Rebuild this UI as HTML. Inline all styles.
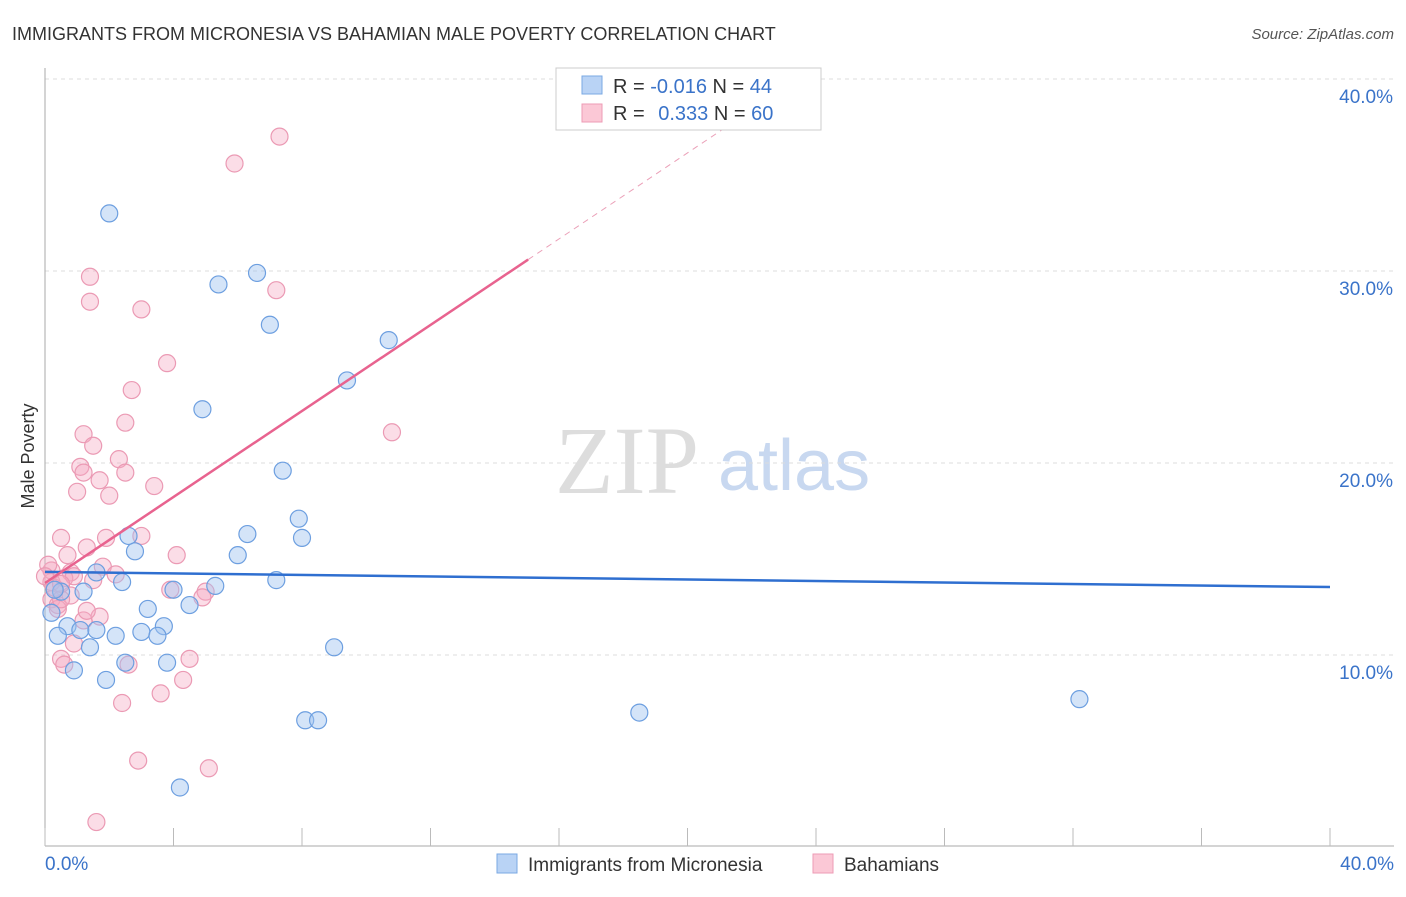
<!DOCTYPE html>
<html><head><meta charset="utf-8"><style>
body{margin:0;background:#fff;font-family:"Liberation Sans",sans-serif;}
</style></head><body>
<svg width="1406" height="892" xmlns="http://www.w3.org/2000/svg" font-family="Liberation Sans, sans-serif">
<text x="12" y="40" font-size="18" fill="#333">IMMIGRANTS FROM MICRONESIA VS BAHAMIAN MALE POVERTY CORRELATION CHART</text>
<text x="1394" y="39" font-size="15" fill="#555" text-anchor="end" font-style="italic">Source: ZipAtlas.com</text>
<text x="34" y="456" font-size="18" fill="#333" text-anchor="middle" transform="rotate(-90 34 456)">Male Poverty</text>
<text x="555" y="493" font-size="96" fill="#ddd" font-family="Liberation Serif, serif">ZIP</text>
<text x="718" y="490" font-size="72" fill="#c8d8f0">atlas</text>
<g id="grid"></g>
<g id="marks"></g>
<g>
<rect x="556" y="68" width="265" height="62" fill="#fff" stroke="#ccc"/>
<rect x="582" y="76" width="20" height="18" fill="#b9d3f5" stroke="#7aa8e3"/>
<rect x="582" y="104" width="20" height="18" fill="#fbc8d6" stroke="#ee9bb5"/>
<text x="613" y="93" font-size="20" fill="#333">R = <tspan fill="#3a73c9">-0.016</tspan>   N = <tspan fill="#3a73c9">44</tspan></text>
<text x="613" y="120" font-size="20" fill="#333">R =  <tspan fill="#3a73c9" dx="8">0.333</tspan>   N = <tspan fill="#3a73c9">60</tspan></text>
</g>
<g>
<rect x="497" y="854" width="20" height="19" fill="#b9d3f5" stroke="#7aa8e3"/>
<text x="528" y="871" font-size="19" fill="#333">Immigrants from Micronesia</text>
<rect x="813" y="854" width="20" height="19" fill="#fbc8d6" stroke="#ee9bb5"/>
<text x="844" y="871" font-size="19" fill="#333">Bahamians</text>
</g>
</svg>
<script>
const yTicks=[10,20,30,40];
const xTickLabels=["0.0%","40.0%"];
const blueX=[2.0,5.4,6.6,7.0,10.7,9.4,4.9,7.4,7.9,8.0,6.3,6.0,2.6,2.8,1.6,2.4,7.2,5.3,4.0,1.2,0.5,0.3,3.2,4.5,0.2,0.7,1.1,1.6,2.2,3.0,3.7,3.5,0.4,1.4,9.0,2.5,3.8,0.9,1.9,8.1,8.5,18.5,32.2,4.2];
const blueY=[33.0,29.3,29.9,27.2,26.4,24.3,22.8,19.6,17.1,16.1,16.3,15.2,16.2,15.4,14.3,13.8,13.9,13.6,13.4,13.3,13.3,13.4,12.4,12.6,12.2,11.5,11.3,11.3,11.0,11.2,11.5,11.0,11.0,10.4,10.4,9.6,9.6,9.2,8.7,6.6,6.6,7.0,7.7,3.1];
const pinkX=[7.3,5.9,1.4,1.4,7.2,3.0,3.8,2.7,2.5,10.8,1.2,1.5,1.1,2.3,1.2,2.5,1.7,3.4,1.0,2.0,3.0,1.9,0.5,1.3,0.7,4.1,1.8,2.2,0.8,1.5,0.6,0.2,0.2,0.4,3.9,5.0,4.9,0.8,1.2,0.4,1.7,1.3,0.9,0.5,0.6,2.6,4.5,4.3,3.6,2.4,2.9,5.1,1.6,0.2,0.1,0.3,0.5,0.0,0.9,0.5];
const pinkY=[37.0,35.6,29.7,28.4,29.0,28.0,25.2,23.8,22.1,21.6,21.5,20.9,19.8,20.2,19.5,19.5,19.1,18.8,18.5,18.3,16.2,16.1,16.1,15.6,15.2,15.2,14.6,14.2,14.3,13.9,14.0,13.8,12.9,12.6,13.4,13.3,13.0,13.1,11.8,12.4,12.0,12.3,10.6,9.8,9.5,9.5,9.8,8.7,8.0,7.5,4.5,4.1,1.3,14.4,14.7,13.5,12.9,14.1,14.1,13.7];
const blueTrend=[14.33,13.54];
const pinkTrend=[13.75,1.12];
const x0=45,x1=1330,ppx=(x1-x0)/40;
const X=v=>x0+v*ppx, Y=v=>847-v*19.2;
const NS="http://www.w3.org/2000/svg";
const grid=document.getElementById('grid'), marks=document.getElementById('marks');
function mk(tag,attrs,parent){const e=document.createElementNS(NS,tag);for(const k in attrs)e.setAttribute(k,attrs[k]);parent.appendChild(e);return e;}
yTicks.forEach(t=>{
 const l=mk('line',{x1:x0,x2:1394,y1:Y(t),y2:Y(t),stroke:'#ddd','stroke-dasharray':'4,4'},grid);
 
 
 const tx=mk('text',{x:1393,y:Y(t)+24,'font-size':19,fill:'#3a73c9','text-anchor':'end'},grid);
 tx.textContent=t.toFixed(1)+'%';
 
 
});
const ax=mk('line',{x1:x0,x2:x0,y1:68,y2:846,stroke:'#aaa'},grid);


const bx=mk('line',{x1:x0,x2:1394,y1:846,y2:846,stroke:'#aaa'},grid);


for(let i=0;i<=10;i++){const t=mk('line',{x1:X(i*4),x2:X(i*4),y1:828,y2:846,stroke:'#bbb'},grid);
 
 }
[[0,'start',45],[40,'end',1394]].forEach((d,i)=>{const t=mk('text',{x:d[2],y:870,'font-size':19,fill:'#3a73c9','text-anchor':d[1]},grid);t.textContent=xTickLabels[i];
 
 });
pinkX.forEach((v,i)=>{const c=mk('circle',{cx:X(v),cy:Y(pinkY[i]),r:8.5,fill:'rgba(245,170,195,0.4)',stroke:'#eb9ab4','stroke-width':1.2},marks);
 
 });
blueX.forEach((v,i)=>{const c=mk('circle',{cx:X(v),cy:Y(blueY[i]),r:8.5,fill:'rgba(160,195,240,0.45)',stroke:'#6d9fe0','stroke-width':1.2},marks);
 
 });
const bl=mk('line',{x1:X(0),y1:Y(blueTrend[0]),x2:X(40),y2:Y(blueTrend[1]),stroke:'#2f6fd0','stroke-width':2.5},marks);


const pe=15.04, pd=21.9;
const pl=mk('line',{x1:X(0),y1:Y(pinkTrend[0]),x2:X(pe),y2:Y(pinkTrend[0]+pinkTrend[1]*pe),stroke:'#e8638f','stroke-width':2.5},marks);


const pd2=mk('line',{x1:X(pe),y1:Y(pinkTrend[0]+pinkTrend[1]*pe),x2:X(pd),y2:Y(pinkTrend[0]+pinkTrend[1]*pd),stroke:'#eba0b8','stroke-width':1,'stroke-dasharray':'6,5'},marks);


</script>
</body></html>
